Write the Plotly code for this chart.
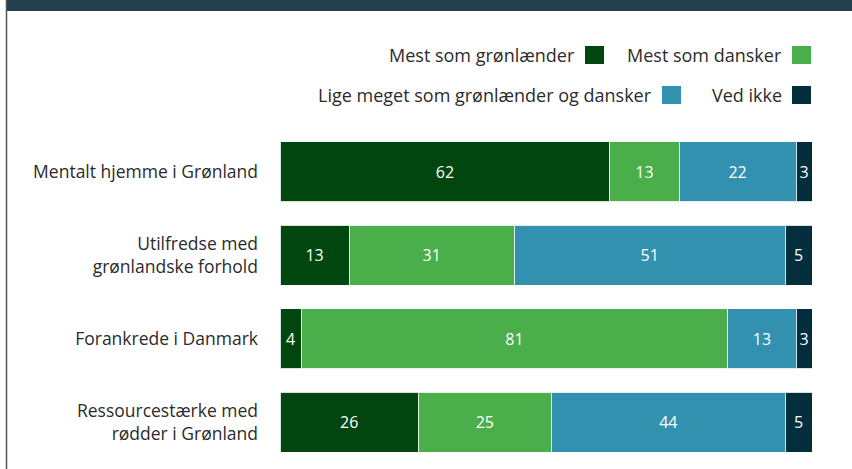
import plotly.graph_objects as go

categories = [
    "Mentalt hjemme i Grønland",
    "Utilfredse med<br>grønlandske forhold",
    "Forankrede i Danmark",
    "Ressourcestærke med<br>rødder i Grønland",
]
series_names = ["Mest som grønlænder", "Mest som dansker",
                "Lige meget som grønlænder og dansker", "Ved ikke"]
mest_groenlaender = [62, 13, 4, 26]
mest_dansker = [13, 31, 81, 25]
lige_meget = [22, 51, 13, 44]
ved_ikke = [3, 5, 3, 5]
series_values = [mest_groenlaender, mest_dansker, lige_meget, ved_ikke]
colors = ["#01450f", "#4aae4a", "#3191ae", "#032e3b"]

W, H = 852, 469
ML, MR, MT, MB = 280, 40, 130, 5
PW, PH = W - ML - MR, H - MT - MB


def px(x):
    return (x - ML) / PW


def py(y):
    return (H - MB - y) / PH


fig = go.Figure()
for name, vals, col in zip(series_names, series_values, colors):
    fig.add_trace(go.Bar(
        y=categories, x=vals, name=name, orientation="h",
        marker=dict(color=col, line=dict(color="rgba(255,255,255,0.85)", width=1)),
        text=[str(v) for v in vals], textposition="inside",
        insidetextanchor="middle", textangle=0,
        textfont=dict(color="white", size=16, family="Open Sans"),
        showlegend=False,
    ))

fig.update_layout(
    width=W, height=H, barmode="stack", barnorm="percent", bargap=0.28,
    margin=dict(l=ML, r=MR, t=MT, b=MB),
    plot_bgcolor="white", paper_bgcolor="white",
    font=dict(family="Open Sans", size=17.5, color="#2b2b2b"),
    uniformtext=dict(minsize=16, mode="show"),
    xaxis=dict(range=[0, 100], visible=False, fixedrange=True),
    yaxis=dict(autorange="reversed", showline=False, showgrid=False,
               ticks="", ticklabelstandoff=21,
               tickfont=dict(size=17.5, color="#2b2b2b", family="Open Sans")),
)

# top band and left border
shapes = [
    dict(type="rect", xref="paper", yref="paper", x0=px(6), x1=px(852),
         y0=py(11), y1=py(0), fillcolor="#213f4c", line=dict(width=0), layer="above"),
    dict(type="line", xref="paper", yref="paper", x0=px(6.5), x1=px(6.5),
         y0=py(0), y1=py(469), line=dict(color="#555555", width=1.5)),
]

# legend (text to the left of its square)
legend_items = [
    (series_names[0], colors[0], 585, 55),
    (series_names[1], colors[1], 792, 55),
    (series_names[2], colors[2], 662, 95),
    (series_names[3], colors[3], 792, 95),
]
annotations = []
for name, col, sx, cy in legend_items:
    shapes.append(dict(type="rect", xref="paper", yref="paper",
                       x0=px(sx), x1=px(sx + 19), y0=py(cy + 9), y1=py(cy - 9),
                       fillcolor=col, line=dict(width=0)))
    annotations.append(dict(xref="paper", yref="paper", x=px(sx - 8), y=py(cy),
                            xanchor="right", yanchor="middle", showarrow=False,
                            text=name, font=dict(size=18, color="#2b2b2b", family="Open Sans")))

fig.update_layout(shapes=shapes, annotations=annotations)
fig.write_html("out.html", config={"displayModeBar": False, "staticPlot": True})

# remove the default page margin so the figure sits at the window origin
with open("out.html", "r", encoding="utf-8") as f:
    html = f.read()
html = html.replace("<head>", "<head><style>html,body{margin:0;padding:0;}</style>", 1)
with open("out.html", "w", encoding="utf-8") as f:
    f.write(html)
